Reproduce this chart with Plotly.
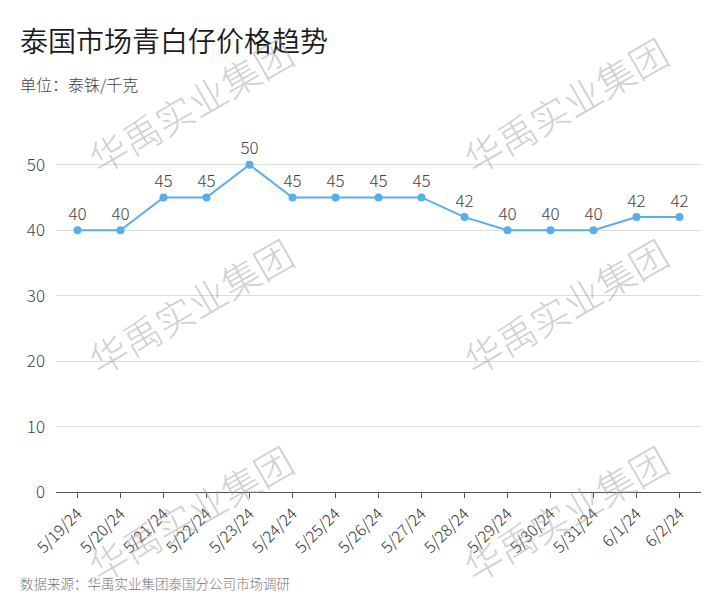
import plotly.graph_objects as go

dates = ["5/19/24", "5/20/24", "5/21/24", "5/22/24", "5/23/24", "5/24/24", "5/25/24",
         "5/26/24", "5/27/24", "5/28/24", "5/29/24", "5/30/24", "5/31/24", "6/1/24", "6/2/24"]
prices = [40, 40, 45, 45, 50, 45, 45, 45, 45, 42, 40, 40, 40, 42, 42]
y_ticks = [0, 10, 20, 30, 40, 50]

title = "泰国市场青白仔价格趋势"
subtitle = "单位：泰铢/千克"
source = "数据来源：华禹实业集团泰国分公司市场调研"
watermark = "华禹实业集团"

FONT = "Noto Sans CJK SC, Noto Sans, sans-serif"

fig = go.Figure()
fig.add_trace(go.Scatter(
    x=dates, y=prices, mode="lines+markers+text",
    text=[str(v) for v in prices], textposition="top center",
    textfont=dict(size=17, color="#444", family=FONT, weight=300),
    line=dict(color="#5aaee8", width=2),
    marker=dict(color="#5aaee8", size=8),
    cliponaxis=False, showlegend=False,
))

fig.update_layout(
    width=720, height=612,
    margin=dict(l=56, r=19, t=132, b=120),
    paper_bgcolor="white", plot_bgcolor="white",
    font=dict(family=FONT, color="#444"),
    xaxis=dict(type="category", range=[-0.5, 14.5], showgrid=False,
               showline=True, linecolor="#555", linewidth=1,
               ticks="outside", ticklen=5, tickcolor="#555",
               tickangle=-45, tickfont=dict(size=16, color="#333", weight=300)),
    yaxis=dict(range=[0, 55], tickvals=y_ticks, showgrid=True, gridcolor="#dddddd",
               zeroline=False, showline=False, ticks="",
               tickfont=dict(size=17, color="#444", weight=300), ticklabelstandoff=10),
)


def px_to_paper_x(px):
    return (px - 56) / (720 - 56 - 19)


def px_to_paper_y(py):
    return (612 - 120 - py) / (612 - 132 - 120)


fig.add_annotation(text=title, xref="paper", yref="paper",
                   x=px_to_paper_x(18), y=px_to_paper_y(40), xanchor="left", yanchor="middle",
                   showarrow=False, font=dict(size=28, color="#1a1a1a", family=FONT, weight=350))
fig.add_annotation(text=subtitle, xref="paper", yref="paper",
                   x=px_to_paper_x(18), y=px_to_paper_y(84), xanchor="left", yanchor="middle",
                   showarrow=False, font=dict(size=16, color="#444", family=FONT, weight=300))
fig.add_annotation(text=source, xref="paper", yref="paper",
                   x=px_to_paper_x(18), y=px_to_paper_y(583), xanchor="left", yanchor="middle",
                   showarrow=False, font=dict(size=13.5, color="#777", family=FONT, weight=300))

for wx, wy in [(190, 104), (565, 104), (190, 305), (565, 305), (190, 512), (565, 512)]:
    fig.add_annotation(text=watermark, xref="paper", yref="paper",
                       x=px_to_paper_x(wx), y=px_to_paper_y(wy), xanchor="center", yanchor="middle",
                       showarrow=False, textangle=-30,
                       font=dict(size=38, color="rgba(150,150,150,0.45)", family=FONT, weight=300))

fig.write_html("out.html")
